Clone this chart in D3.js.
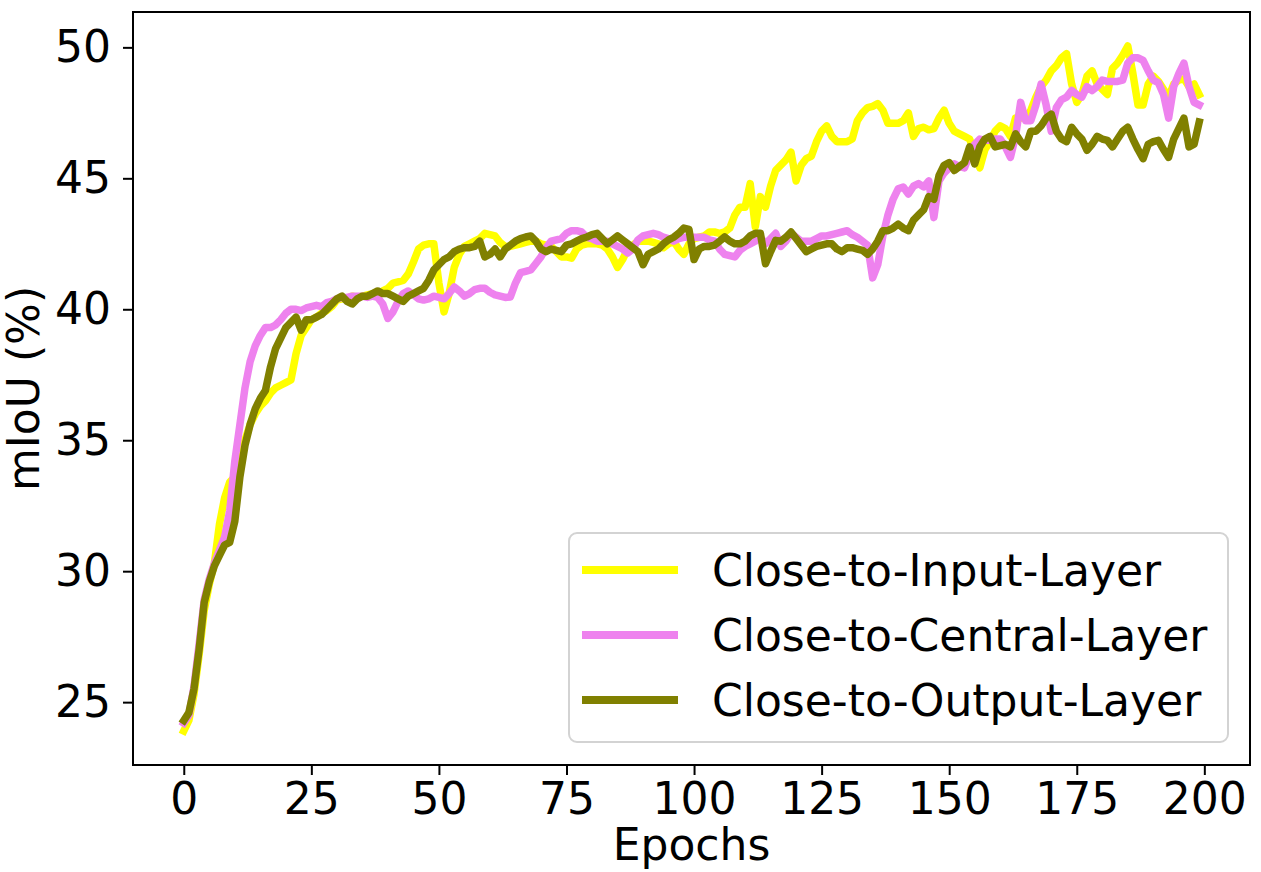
<!DOCTYPE html>
<html>
<head>
<meta charset="utf-8">
<script src="https://cdn.jsdelivr.net/npm/d3@7"></script>
<style>
  html, body { margin: 0; padding: 0; background: #fff; }
  svg { display: block; }
  text { font-family: "DejaVu Sans", sans-serif; fill: #000; }
</style>
</head>
<body>
<svg id="chart" width="1261" height="872"></svg>
<script>
// ---- data ----
const seriesNames = ["Close-to-Input-Layer", "Close-to-Central-Layer", "Close-to-Output-Layer"];
const seriesColors = ["#ffff00", "#ee82ee", "#808000"];
const xTicks = [0, 25, 50, 75, 100, 125, 150, 175, 200];
const yTicks = [25, 30, 35, 40, 45, 50];

const inputLayer = [
23.9,24.3,25.3,26.8,28.5,29.5,30.3,31.8,32.8,33.4,
33.6,34.2,35.0,35.6,36.0,36.3,36.5,36.8,37.0,37.1,
37.2,37.3,38.3,39.0,39.3,39.6,39.7,39.85,39.95,40.1,
40.35,40.4,40.4,40.5,40.45,40.5,40.55,40.6,40.6,40.7,
40.8,41.0,41.05,41.1,41.35,41.8,42.3,42.45,42.5,42.5,
41.0,39.9,40.6,41.6,42.1,42.4,42.5,42.6,42.7,42.9,
42.85,42.8,42.55,42.4,42.4,42.45,42.5,42.55,42.6,42.6,
42.5,42.45,42.4,42.2,42.0,42.0,41.95,42.3,42.45,42.5,
42.5,42.5,42.45,42.3,42.0,41.6,41.9,42.3,42.45,42.6,
42.6,42.6,42.55,42.5,42.35,42.5,42.6,42.3,42.1,42.5,
42.7,42.75,42.8,42.95,42.95,42.9,42.95,43.1,43.6,43.9,
43.9,44.8,43.15,44.3,43.9,44.7,45.3,45.5,45.7,46.0,
44.9,45.5,45.75,45.85,46.4,46.8,47.0,46.6,46.4,46.4,
46.4,46.5,47.2,47.5,47.7,47.75,47.85,47.6,47.1,47.1,
47.1,47.2,47.5,46.6,46.9,46.95,46.85,46.9,47.3,47.6,
47.1,46.8,46.7,46.6,46.5,46.0,45.4,46.1,46.4,46.8,
47.0,46.9,46.6,47.3,47.3,47.3,47.6,48.1,48.5,48.75,
49.1,49.3,49.6,49.76,48.6,47.9,48.2,48.9,49.1,48.6,
48.4,48.2,49.2,49.4,49.7,50.05,49.0,47.8,47.8,48.6,
48.9,48.7,48.4,48.1,48.6,48.75,48.8,48.5,48.6,48.2
];

const centralLayer = [
24.2,24.5,25.6,27.2,28.9,29.7,30.3,30.8,31.3,32.3,
34.2,35.6,37.0,38.0,38.6,39.0,39.3,39.3,39.4,39.6,
39.85,40.0,40.0,39.95,40.05,40.1,40.15,40.1,40.25,40.3,
40.4,40.45,40.45,40.5,40.5,40.5,40.45,40.5,40.45,40.2,
39.65,39.9,40.3,40.6,40.7,40.55,40.4,40.35,40.4,40.5,
40.45,40.4,40.6,40.85,40.7,40.5,40.6,40.75,40.8,40.8,
40.65,40.55,40.5,40.45,40.47,41.0,41.4,41.45,41.5,41.75,
42.0,42.35,42.6,42.65,42.7,42.9,43.0,43.0,42.95,42.75,
42.7,42.6,42.6,42.6,42.5,42.4,42.3,42.15,42.3,42.65,
42.8,42.85,42.9,42.85,42.75,42.7,42.6,42.7,42.75,42.75,
42.75,42.75,42.75,42.65,42.6,42.3,42.1,42.05,42.0,42.25,
42.4,42.5,42.6,42.75,42.5,42.7,42.9,42.4,42.6,42.9,
42.75,42.6,42.6,42.6,42.7,42.8,42.8,42.85,42.9,42.95,
43.0,42.85,42.75,42.6,42.45,41.2,41.7,42.8,43.6,44.2,
44.6,44.67,44.4,44.7,44.8,44.67,44.9,43.5,44.9,45.2,
45.4,45.55,45.45,45.4,45.9,46.3,46.5,46.45,46.45,46.5,
46.5,46.2,45.8,46.6,47.9,47.2,47.2,47.8,48.6,47.8,
46.8,47.7,48.0,48.1,48.35,48.2,48.1,48.5,48.35,48.5,
48.75,48.7,48.7,48.7,48.75,49.4,49.6,49.6,49.5,49.1,
48.75,48.65,48.2,47.3,48.5,49.0,49.4,48.5,47.9,47.8
];

const outputLayer = [
24.3,24.6,25.5,27.0,28.8,29.6,30.2,30.6,31.0,31.1,
31.9,33.6,34.8,35.6,36.2,36.6,36.9,37.8,38.5,38.9,
39.3,39.5,39.7,39.2,39.6,39.6,39.7,39.8,40.0,40.2,
40.4,40.5,40.3,40.2,40.4,40.5,40.5,40.6,40.7,40.6,
40.6,40.5,40.4,40.3,40.5,40.6,40.7,40.8,41.1,41.5,
41.7,41.9,42.0,42.2,42.3,42.35,42.35,42.4,42.6,42.0,
42.1,42.3,42.0,42.3,42.45,42.6,42.7,42.76,42.8,42.6,
42.3,42.2,42.3,42.25,42.2,42.45,42.5,42.6,42.7,42.76,
42.85,42.9,42.7,42.5,42.65,42.8,42.65,42.5,42.35,42.2,
41.7,42.1,42.2,42.3,42.5,42.65,42.75,42.9,43.1,43.05,
41.9,42.3,42.4,42.4,42.45,42.6,42.76,42.6,42.5,42.5,
42.6,42.8,42.9,42.9,41.74,42.2,42.63,42.6,42.75,42.95,
42.7,42.45,42.2,42.3,42.4,42.45,42.5,42.5,42.3,42.2,
42.35,42.35,42.3,42.25,42.1,42.3,42.6,43.0,43.0,43.1,
43.25,43.1,43.0,43.4,43.6,43.8,44.3,44.2,45.1,45.5,
45.6,45.3,45.45,45.6,46.2,45.55,46.2,46.5,46.6,46.2,
46.25,46.3,46.2,46.7,46.4,46.2,46.8,46.8,47.0,47.3,
47.45,46.8,46.5,46.4,46.95,46.7,46.5,46.07,46.3,46.6,
46.5,46.45,46.2,46.5,46.8,46.95,46.5,46.1,45.75,46.3,
46.4,46.45,46.1,45.8,46.5,46.9,47.3,46.2,46.3,47.15
];

const seriesValues = [inputLayer, centralLayer, outputLayer];

// ---- layout ----
const svg = d3.select("#chart");
const mLeft = 133, mRight = 1250, mTop = 12, mBottom = 765;
const fontSize = 44;

const x = d3.scaleLinear().domain([-9.95, 208.95]).range([mLeft, mRight]);
const y = d3.scaleLinear().domain([22.6, 51.35]).range([mBottom, mTop]);

// lines
const line = d3.line().x((d, i) => x(i)).y(d => y(d));
const g = svg.append("g");
g.append("clipPath").attr("id", "clip").append("rect")
  .attr("x", mLeft).attr("y", mTop).attr("width", mRight - mLeft).attr("height", mBottom - mTop);
seriesValues.forEach((vals, k) => {
  g.append("path")
    .datum(vals)
    .attr("clip-path", "url(#clip)")
    .attr("d", line)
    .attr("fill", "none")
    .attr("stroke", seriesColors[k])
    .attr("stroke-width", 7.5)
    .attr("stroke-linejoin", "round")
    .attr("stroke-linecap", "square");
});

// axes
const xAxis = d3.axisBottom(x).tickValues(xTicks).tickSize(10).tickPadding(8).tickFormat(d3.format("d"));
const yAxis = d3.axisLeft(y).tickValues(yTicks).tickSize(10).tickPadding(12).tickFormat(d3.format("d"));

const gx = svg.append("g").attr("transform", `translate(0,${mBottom})`).call(xAxis);
const gy = svg.append("g").attr("transform", `translate(${mLeft},0)`).call(yAxis);
[gx, gy].forEach(a => {
  a.select(".domain").remove();
  a.selectAll(".tick line").attr("stroke", "#000").attr("stroke-width", 2);
  a.selectAll(".tick text").style("font-size", fontSize + "px").style("font-family", "DejaVu Sans").attr("fill", "#000");
});

// frame
svg.append("rect")
  .attr("x", mLeft).attr("y", mTop).attr("width", mRight - mLeft).attr("height", mBottom - mTop)
  .attr("fill", "none").attr("stroke", "#000").attr("stroke-width", 2);

// axis labels
svg.append("text")
  .attr("x", (mLeft + mRight) / 2).attr("y", 860)
  .attr("text-anchor", "middle")
  .style("font-size", fontSize + "px")
  .text("Epochs");
svg.append("text")
  .attr("transform", `translate(39,${(mTop + mBottom) / 2}) rotate(-90)`)
  .attr("text-anchor", "middle")
  .style("font-size", fontSize + "px")
  .text("mIoU (%)");

// legend
const lg = svg.append("g");
lg.append("rect")
  .attr("x", 569).attr("y", 533).attr("width", 659).attr("height", 209)
  .attr("rx", 8).attr("ry", 8)
  .attr("fill", "#fff").attr("fill-opacity", 0.8)
  .attr("stroke", "#d3d3d3").attr("stroke-width", 2);
const rowY = [570, 635, 700];
seriesNames.forEach((name, k) => {
  lg.append("line")
    .attr("x1", 582).attr("x2", 678)
    .attr("y1", rowY[k]).attr("y2", rowY[k])
    .attr("stroke", seriesColors[k]).attr("stroke-width", 8);
  lg.append("text")
    .attr("x", 712).attr("y", rowY[k])
    .attr("dy", "0.36em")
    .style("font-size", fontSize + "px")
    .text(name);
});
</script>
</body>
</html>
